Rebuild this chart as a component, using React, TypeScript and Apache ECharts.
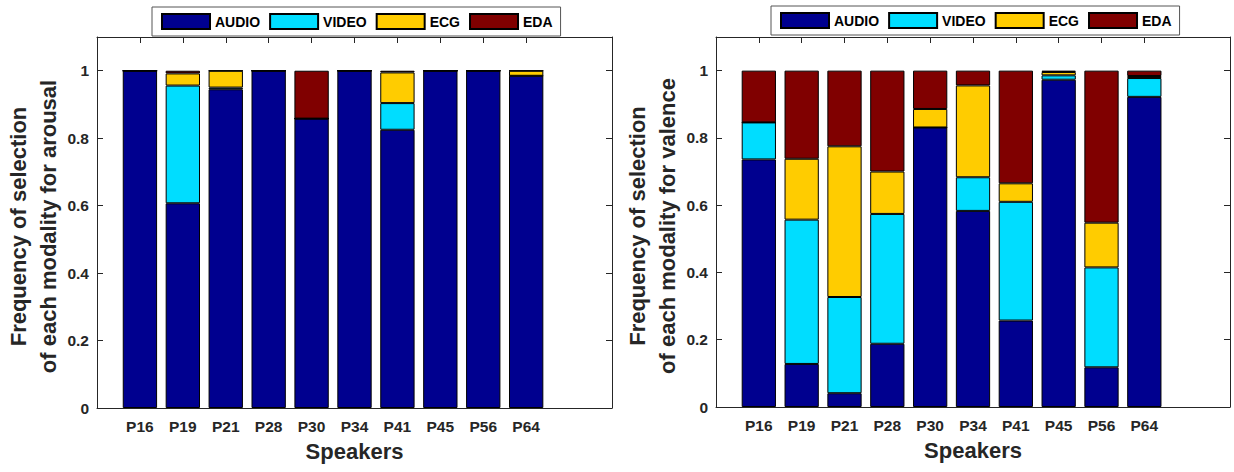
import React, { useEffect, useRef } from "react";
import * as echarts from "echarts";

const speakers = ["P16", "P19", "P21", "P28", "P30", "P34", "P41", "P45", "P56", "P64"];
const modalities = ["AUDIO", "VIDEO", "ECG", "EDA"];
const modalityColors = ["#00008F", "#00DDFF", "#FFCC00", "#800000"];

const arousalAudio = [1, 0.607, 0.945, 1, 0.858, 1, 0.825, 1, 1, 0.985];
const arousalVideo = [0, 0.349, 0.005, 0, 0, 0, 0.079, 0, 0, 0];
const arousalEcg = [0, 0.036, 0.05, 0, 0, 0, 0.091, 0, 0, 0.015];
const arousalEda = [0, 0.008, 0, 0, 0.142, 0, 0.005, 0, 0, 0];

const valenceAudio = [0.736, 0.128, 0.041, 0.188, 0.831, 0.583, 0.257, 0.973, 0.118, 0.922];
const valenceVideo = [0.11, 0.429, 0.286, 0.386, 0, 0.1, 0.353, 0.013, 0.297, 0.056];
const valenceEcg = [0, 0.181, 0.448, 0.126, 0.055, 0.273, 0.055, 0.01, 0.133, 0.006];
const valenceEda = [0.154, 0.262, 0.225, 0.3, 0.114, 0.044, 0.335, 0.004, 0.452, 0.016];

const yTicks = { min: 0, max: 1.1, interval: 0.2 };

const FONT = 'Arial, "Liberation Sans", Helvetica, sans-serif';
const AX = "#262626";

export default function App() {
  const ref = useRef<HTMLDivElement>(null);
  useEffect(() => {
    if (!ref.current) return;
    const chart = echarts.init(ref.current, undefined, { renderer: "svg" });
    const cats = ["", ...speakers, "", ""];
    const pad = (arr: number[]) => ["-", ...arr, "-", "-"];
    const tickInterval = (_i: number, v: string) => v !== "";

    const xAxisBottom = (gridIndex: number) => ({
      type: "category",
      gridIndex,
      data: cats,
      boundaryGap: false,
      axisLine: { onZero: false, lineStyle: { color: AX, width: 1 } },
      axisTick: { inside: true, length: 6, interval: tickInterval, lineStyle: { color: AX } },
      axisLabel: {
        interval: 0,
        margin: 10,
        fontSize: 15.5,
        fontWeight: "bold",
        color: AX,
        fontFamily: FONT,
      },
      name: "Speakers",
      nameLocation: "middle",
      nameGap: 32,
      nameTextStyle: { fontSize: 22, fontWeight: "bold", color: AX, fontFamily: FONT },
      splitLine: { show: false },
    });
    const xAxisTop = (gridIndex: number) => ({
      type: "category",
      gridIndex,
      position: "top",
      data: cats,
      boundaryGap: false,
      axisLine: { onZero: false, lineStyle: { color: AX, width: 1 } },
      axisTick: { inside: true, length: 6, interval: tickInterval, lineStyle: { color: AX } },
      axisLabel: { show: false },
      splitLine: { show: false },
    });
    const yAxisLeft = (gridIndex: number, name: string) => ({
      type: "value",
      gridIndex,
      ...yTicks,
      axisLine: { show: true, onZero: false, lineStyle: { color: AX, width: 1 } },
      axisTick: { show: true, inside: true, length: 6, lineStyle: { color: AX } },
      axisLabel: {
        margin: 8,
        fontSize: 15.5,
        fontWeight: "bold",
        color: AX,
        fontFamily: FONT,
        formatter: (v: number) => (v > 1.05 ? "" : String(Math.round(v * 10) / 10)),
      },
      splitLine: { show: false },
      name,
      nameLocation: "middle",
      nameRotate: 90,
      nameGap: 30,
      nameTextStyle: {
        fontSize: 22,
        fontWeight: "bold",
        color: AX,
        fontFamily: FONT,
        lineHeight: 30,
        align: "center",
        padding: [0, 8, 0, 0],
      },
    });
    const yAxisRight = (gridIndex: number) => ({
      type: "value",
      gridIndex,
      position: "right",
      ...yTicks,
      axisLine: { show: true, onZero: false, lineStyle: { color: AX, width: 1 } },
      axisTick: { show: true, inside: true, length: 6, lineStyle: { color: AX } },
      axisLabel: { show: false },
      splitLine: { show: false },
    });

    const mkSeries = (vals: number[][], xi: number, yi: number, stack: string) =>
      vals.map((arr, k) => ({
        name: modalities[k],
        type: "bar",
        stack,
        xAxisIndex: xi,
        yAxisIndex: yi,
        barWidth: "80%",
        data: pad(arr),
        itemStyle: { color: modalityColors[k], borderColor: "#000", borderWidth: 1 },
        emphasis: { disabled: true },
      }));

    const legendBase = {
      data: modalities,
      orient: "horizontal",
      icon: "rect",
      itemWidth: 48,
      itemHeight: 15,
      itemGap: 9,
      padding: [6, 8, 6, 9],
      backgroundColor: "#fff",
      borderColor: "#555",
      borderWidth: 1,
      borderRadius: 0,
      textStyle: { fontSize: 14, fontWeight: "bold", color: "#000", fontFamily: FONT },
      selectedMode: false,
    };

    chart.setOption({
      animation: false,
      backgroundColor: "#fff",
      textStyle: { fontFamily: FONT },
      color: modalityColors,
      legend: [
        { ...legendBase, left: 152, top: 7 },
        { ...legendBase, left: 771, top: 6 },
      ],
      grid: [
        { left: 97, top: 37, width: 515, height: 371, containLabel: false },
        { left: 716, top: 37, width: 514, height: 370, containLabel: false },
      ],
      xAxis: [xAxisBottom(0), xAxisTop(0), xAxisBottom(1), xAxisTop(1)],
      yAxis: [
        yAxisLeft(0, "Frequency of selection\nof each modality for arousal"),
        yAxisRight(0),
        yAxisLeft(1, "Frequency of selection\nof each modality for valence"),
        yAxisRight(1),
      ],
      series: [
        ...mkSeries([arousalAudio, arousalVideo, arousalEcg, arousalEda], 0, 0, "arousal"),
        ...mkSeries([valenceAudio, valenceVideo, valenceEcg, valenceEda], 2, 2, "valence"),
      ],
    });
    return () => chart.dispose();
  }, []);
  return (
    <div
      ref={ref}
      style={{ position: "fixed", left: 0, top: 0, width: 1234, height: 472, background: "#fff" }}
    />
  );
}
